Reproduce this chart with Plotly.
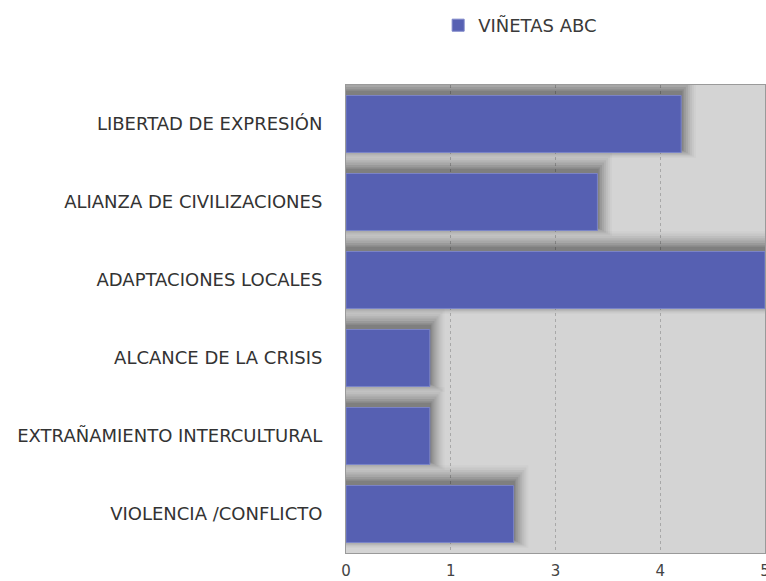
import plotly.graph_objects as go

categories = ["LIBERTAD DE EXPRESIÓN", "ALIANZA DE CIVILIZACIONES", "ADAPTACIONES LOCALES",
              "ALCANCE DE LA CRISIS", "EXTRAÑAMIENTO INTERCULTURAL", "VIOLENCIA /CONFLICTO"]
values = [4, 3, 5, 1, 1, 2]
tick_vals = [0, 1.25, 2.5, 3.75, 5]
tick_text = ["0", "1", "3", "4", "5"]
series_name = "VIÑETAS ABC"

fig = go.Figure()

bw = 0.73
# soft shadow layers
layers = [(0.22, 0.025), (0.19, 0.035), (0.16, 0.045), (0.13, 0.055), (0.10, 0.065),
          (0.07, 0.075), (0.04, 0.085), (0.02, 0.09)]
for d, a in layers:
    fig.add_trace(go.Bar(
        y=categories, x=[v + d * 0.8 for v in values], orientation="h",
        width=bw + 1.5 * d, offset=-bw / 2 - d - 0.04,
        marker=dict(color=f"rgba(0,0,0,{a})", line=dict(width=0)),
        showlegend=False, hoverinfo="skip"))

fig.add_trace(go.Bar(
    y=categories, x=values, orientation="h", name=series_name,
    width=bw, offset=-bw / 2,
    marker=dict(color="#5660b2", line=dict(color="#7b84c8", width=1))))

fig.update_layout(
    width=766, height=581,
    margin=dict(l=346, r=1, t=85, b=28, autoexpand=False),
    paper_bgcolor="white", plot_bgcolor="#d4d4d4",
    barmode="overlay",
    font=dict(family="DejaVu Sans, Liberation Sans, sans-serif", size=18, color="#3a3a3a"),
    legend=dict(orientation="h", x=0.572, y=0.988, xref="container", yref="container",
                xanchor="left", yanchor="top", font=dict(size=18, color="#3a3a3a")),
    showlegend=True,
)

fig.update_xaxes(range=[0, 5], tickvals=tick_vals, ticktext=tick_text, automargin=False,
                 showgrid=True, gridcolor="#a8a8a8", griddash="dot", gridwidth=1,
                 zeroline=False, showline=True, linecolor="#9a9a9a", mirror=True,
                 ticks="", ticklabelstandoff=4, ticklabeloverflow="allow",
                 tickfont=dict(size=15, color="#444"))
fig.update_yaxes(categoryorder="array", categoryarray=categories,
                 range=[len(categories) - 0.5, -0.5], automargin=False,
                 showgrid=False, showline=True, linecolor="#9a9a9a", mirror=True,
                 ticks="", ticklabelstandoff=19, tickfont=dict(size=18, color="#333"))

fig.write_html("out.html", config={"displayModeBar": False},
               post_script="document.body.style.margin='0';document.body.style.overflow='hidden';")
